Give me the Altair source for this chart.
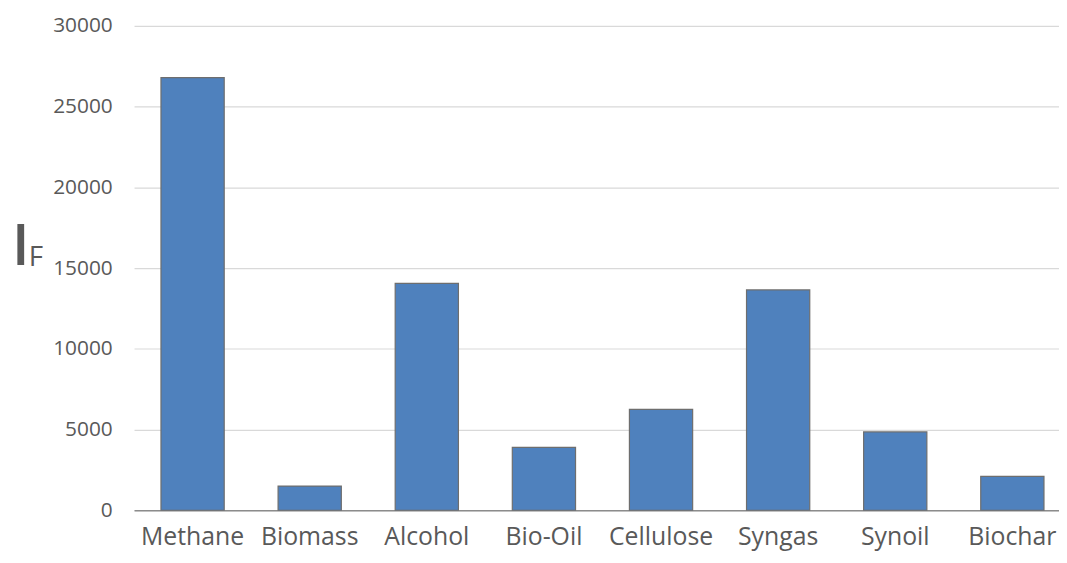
import altair as alt
import pandas as pd

categories = ["Methane", "Biomass", "Alcohol", "Bio-Oil", "Cellulose", "Syngas", "Synoil", "Biochar"]
values = [26800, 1500, 14050, 3900, 6250, 13650, 4850, 2100]
y_ticks = [0, 5000, 10000, 15000, 20000, 25000, 30000]

df = pd.DataFrame({"cat": categories, "val": values})

FONT = "Open Sans"
GRAY = "#595959"

bars = alt.Chart(df).mark_bar(color="#4F81BD", stroke="#6E6E6E", strokeWidth=1.2).encode(
    x=alt.X("cat:N", sort=categories,
            scale=alt.Scale(paddingInner=0.46, paddingOuter=0.23, range=[0, 944]),
            axis=alt.Axis(title=None, labelAngle=0, labelFont=FONT, labelFontSize=25,
                          labelColor=GRAY, labelPadding=15, ticks=False,
                          domainColor="#8C8C8C", domainWidth=1.5)),
    y=alt.Y("val:Q", scale=alt.Scale(domain=[0, 30000], nice=False),
            axis=alt.Axis(title=None, values=y_ticks, format="d", labelFont=FONT,
                          labelFontSize=21, labelColor=GRAY, labelPadding=22, ticks=False,
                          domain=False, gridColor="#D9D9D9", gridWidth=1.2)),
)

title_df = pd.DataFrame({"t": ["I"]})
big_i = alt.Chart(title_df).mark_text(font=FONT, fontSize=58, fontWeight=600, color=GRAY,
                                       align="left", baseline="alphabetic").encode(
    text="t:N", x=alt.value(-123), y=alt.value(241))
sub_df = pd.DataFrame({"t": ["F"]})
sub_f = alt.Chart(sub_df).mark_text(font=FONT, fontSize=28, color=GRAY, align="left",
                                     baseline="alphabetic").encode(
    text="t:N", x=alt.value(-106), y=alt.value(242))

chart = alt.layer(bars, big_i, sub_f).properties(
    width=932, height=488,
    autosize=alt.AutoSizeParams(type="none"),
    padding={"left": 127, "top": 16, "right": 0, "bottom": 43},
).configure_view(stroke=None)

chart.save("out.html", embed_options={"renderer": "svg", "actions": False})
